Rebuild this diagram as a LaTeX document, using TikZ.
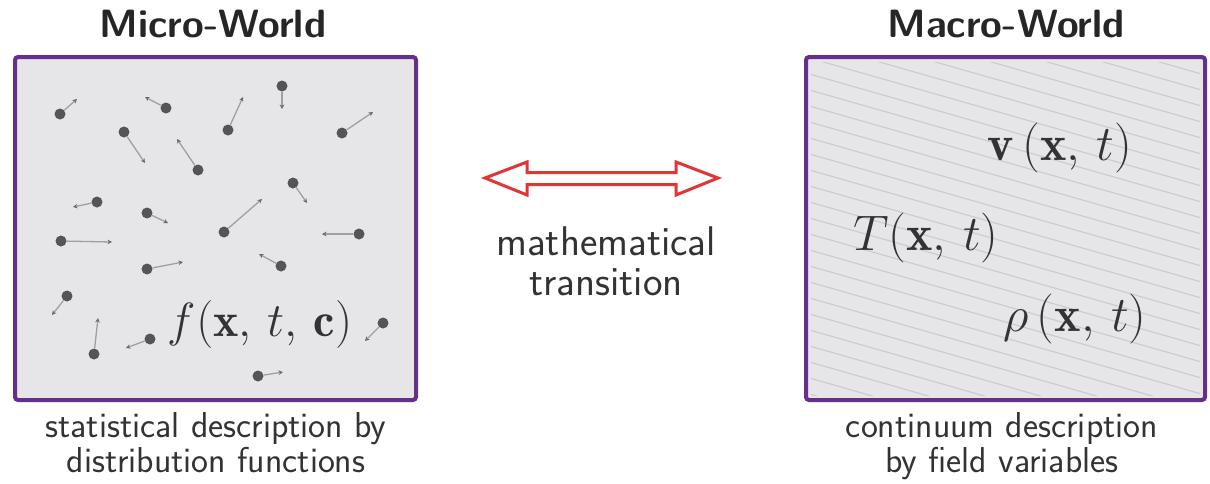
\RequirePackage{fix-cm}
\documentclass[tikz,border=0pt]{standalone}
\usepackage{fontspec}
\usetikzlibrary{arrows.meta}
\definecolor{boxpurple}{HTML}{66308A}
\definecolor{boxfill}{HTML}{E6E6E9}
\definecolor{dotgray}{HTML}{555555}
\definecolor{velgray}{HTML}{A0A0A2}
\definecolor{tipgray}{HTML}{6A6A6A}
\definecolor{hatchgray}{HTML}{CBCBCF}
\definecolor{arrred}{HTML}{E03636}
\definecolor{txtgray}{HTML}{333333}
\begin{document}
\begin{tikzpicture}[x=1pt,y=-1pt,
  worldbox/.style={draw=boxpurple,line width=4pt,fill=boxfill,rounded corners=3pt,inner sep=0pt},
  titletext/.style={font=\sffamily\bfseries\fontsize{39.5}{44}\selectfont,text=black!85,anchor=base,inner sep=0pt},
  captext/.style={font=\sffamily\fontsize{36}{35}\selectfont,text=txtgray,align=center,anchor=base,inner sep=0pt},
  midtext/.style={font=\sffamily\fontsize{41.5}{40}\selectfont,text=txtgray,align=center,anchor=base,inner sep=0pt},
  mathtext/.style={font=\fontsize{50}{60}\selectfont,text=black!80,anchor=base,inner sep=0pt},
  particle/.style={circle,fill=dotgray,inner sep=0pt,minimum size=11pt},
  vel/.style={draw=velgray,line width=1.3pt,-{Stealth[length=4.5pt,width=4.5pt,fill=tipgray,color=tipgray]}},
  hatchline/.style={draw=hatchgray,line width=1.1pt}]
\useasboundingbox (0,0) rectangle (1210,483);

% titles
\node[titletext] (microtitle) at (213,37) {Micro-World};
\node[titletext] (macrotitle) at (1006,37) {Macro-World};

% boxes
\path[worldbox] (15,57) rectangle (416,400);
\path[worldbox] (806,57) rectangle (1205,400);

% hatching in macro box
\begin{scope}
  \clip (811,62) rectangle (1200,395);
  \foreach \k in {-8,...,22} {
    \draw[hatchline] (806,{57+16*\k}) -- (1205,{57+16*\k+114});
  }
\end{scope}

% particles
\foreach \i/\px/\py/\tx/\ty in {
  1/60/114/77/99, 2/166/108/145/97, 3/228/130/243/97, 4/282/86/282/109,
  5/342/133/373/112, 6/124/132/145/163, 7/198/170/177/139, 8/293/183/307/203,
  9/97/202/73/207, 10/147/213/168/223, 11/224/232/262/199, 12/61/241/112/242,
  13/359/234/322/234, 14/147/269/183/262, 15/281/266/259/254, 16/67/296/52/315,
  17/94/354/98/318, 18/150/339/126/348, 19/383/323/365/341, 20/258/376/283/372} {
  \node[particle] (p\i) at (\px,\py) {};
  \coordinate (v\i) at (\tx,\ty);
  \draw[vel] (p\i) -- (v\i);
}

% math labels
\node[mathtext,font=\fontsize{48}{56}\selectfont] (fdist) at (260,336) {$f(\mathbf{x},\,t,\,\mathbf{c})$};
\node[mathtext] (vel) at (1060,160) {$\mathbf{v}\,(\mathbf{x},\,t)$};
\node[mathtext] (temp) at (926,250) {$T(\mathbf{x},\,t)$};
\node[mathtext] (dens) at (1075,331) {$\rho\,(\mathbf{x},\,t)$};

% double arrow
\draw[draw=arrred,line width=3pt,fill=white,line join=miter]
  (485,178) -- (527,162) -- (527,172.5) -- (676,172.5) -- (676,162) -- (718,178)
  -- (676,195) -- (676,184.5) -- (527,184.5) -- (527,195) -- cycle;

% captions
\node[midtext] (transition) at (606,295) {mathematical\\transition};
\node[captext] (microcap) at (216,472) {statistical description by\\distribution functions};
\node[captext] (macrocap) at (1002,472) {continuum description\\by field variables};
\end{tikzpicture}
\end{document}
